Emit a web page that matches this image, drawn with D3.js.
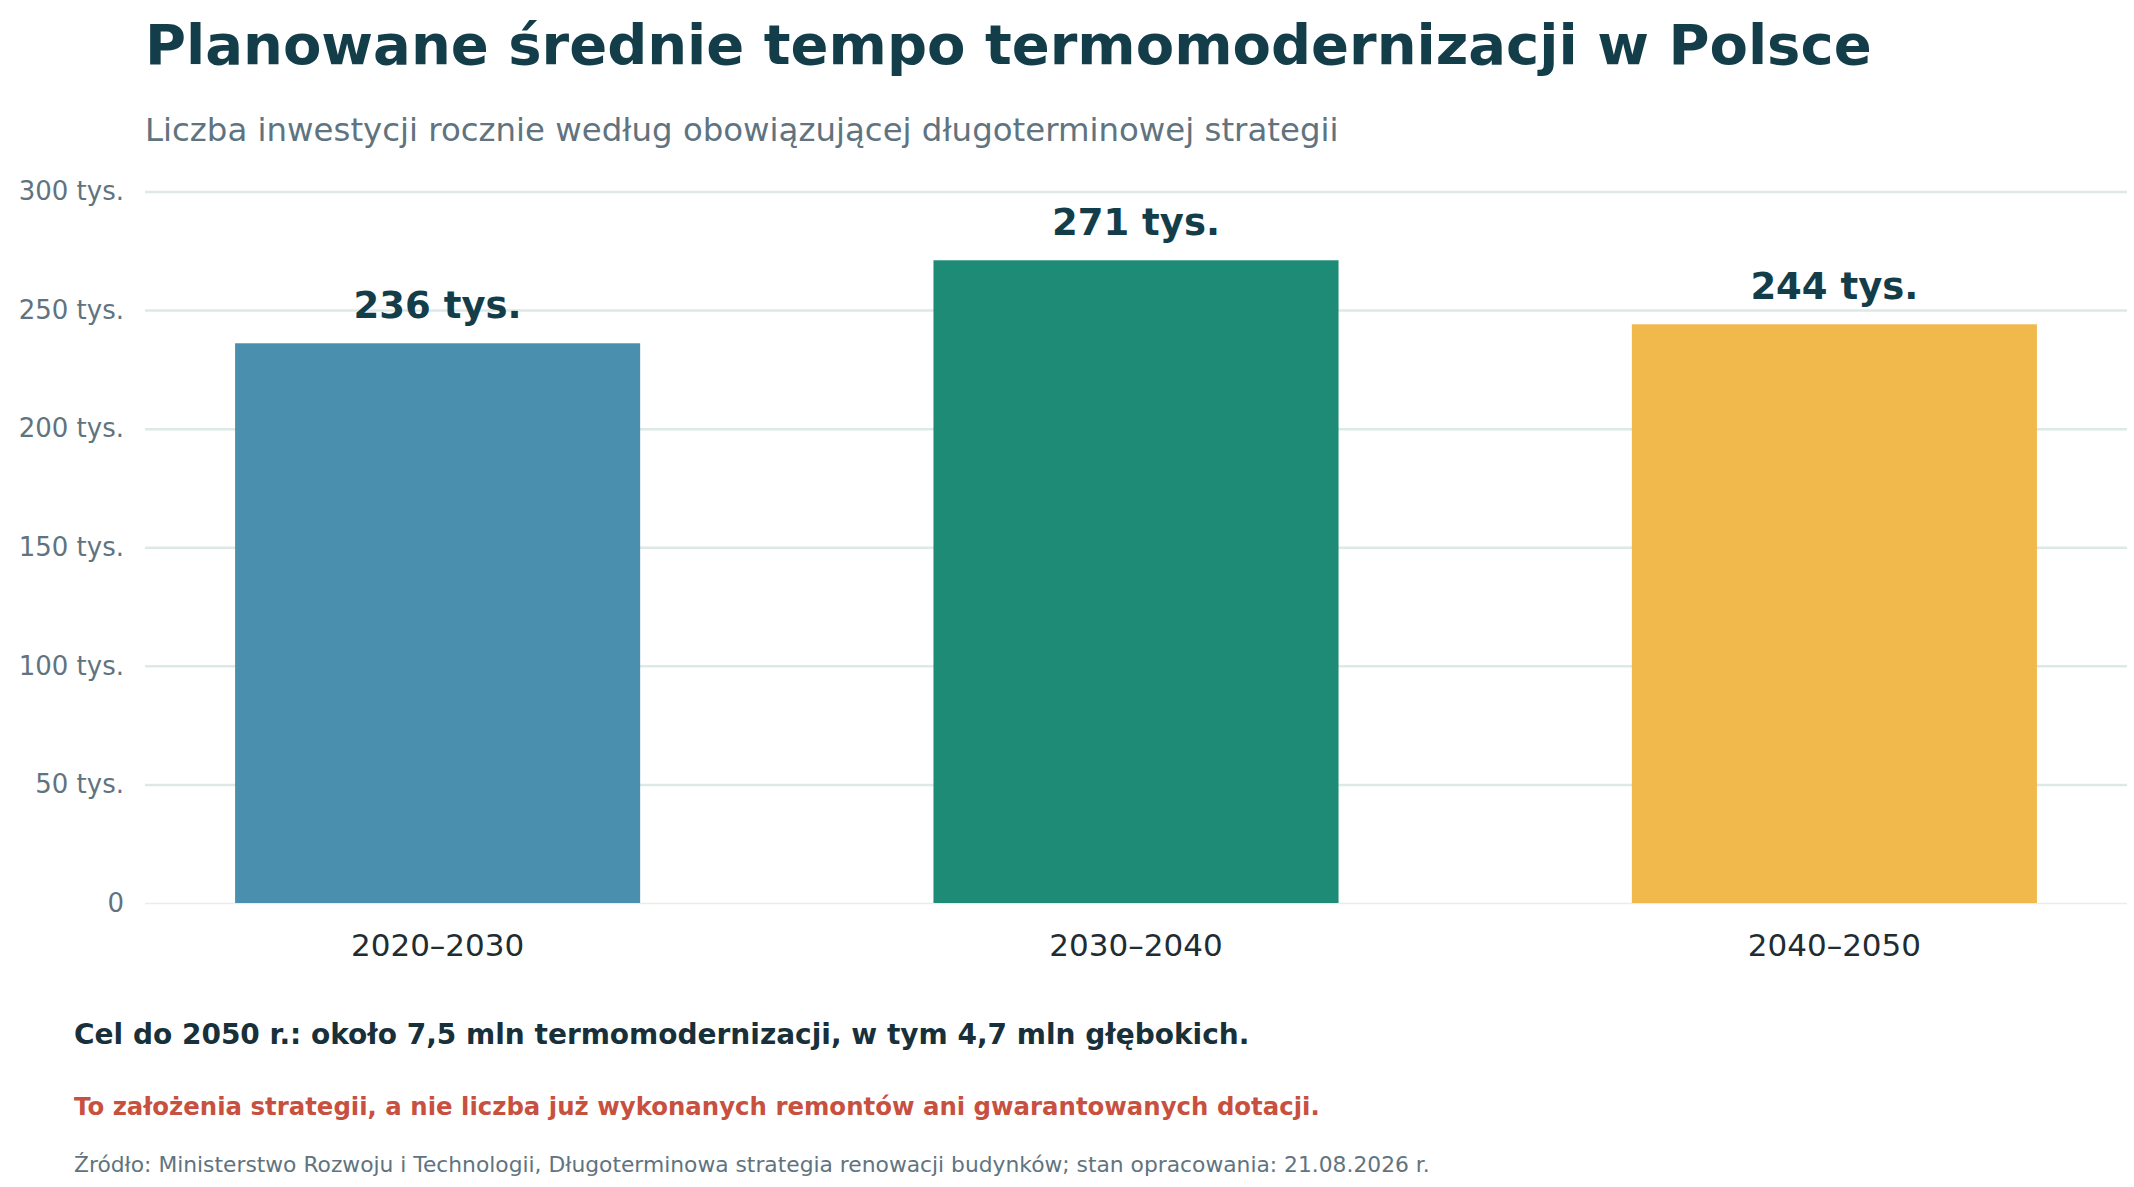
<!DOCTYPE html>
<html>
<meta charset="utf-8">
<title>Planowane średnie tempo termomodernizacji w Polsce</title>
<style>
  body { margin: 0; background: #fff; }
  text { font-family: "DejaVu Sans", sans-serif; }
</style>
<body>
<div id="chart"></div>
<script src="https://d3js.org/d3.v7.min.js"></script>
<script>
  // data
  var periods = ["2020–2030", "2030–2040", "2040–2050"];
  var investments = [236, 271, 244]; // tys. rocznie
  var barColors = ["#4b8fae", "#1e8b76", "#f1b84c"];
  var yTicks = [0, 50, 100, 150, 200, 250, 300];

  var width = 2134, height = 1187;
  var plotLeft = 145, plotRight = 2127, plotTop = 191.5, plotBottom = 903;

  var svg = d3.select("#chart").append("svg")
    .attr("width", width)
    .attr("height", height);

  var x = d3.scaleBand()
    .domain(periods)
    .range([plotLeft, plotRight])
    .paddingInner(0.42)
    .paddingOuter(0.129);

  var y = d3.scaleLinear()
    .domain([0, 300])
    .range([plotBottom, plotTop]);

  // gridlines + y labels
  var yAxis = d3.axisLeft(y)
    .tickValues(yTicks)
    .tickSize(-(plotRight - plotLeft))
    .tickPadding(20)
    .tickFormat(function (d) { return d === 0 ? "0" : d + " tys."; });

  var gy = svg.append("g")
    .attr("transform", "translate(" + plotLeft + ",0)")
    .call(yAxis);
  gy.select(".domain").remove();
  gy.selectAll(".tick line")
    .attr("stroke-width", function (d) { return d === 0 ? 1.5 : 2.5; })
    .attr("stroke", function (d) { return d === 0 ? "#e6eeed" : "#dde9e7"; });
  gy.selectAll(".tick text")
    .attr("x", -21)
    .style("font-family", "DejaVu Sans")
    .style("font-size", "26px")
    .attr("fill", "#5f7480");

  // bars
  svg.append("g").selectAll("rect")
    .data(periods)
    .join("rect")
    .attr("x", function (d) { return x(d); })
    .attr("y", function (d, i) { return y(investments[i]); })
    .attr("width", x.bandwidth())
    .attr("height", function (d, i) { return y(0) - y(investments[i]); })
    .attr("fill", function (d, i) { return barColors[i]; });

  // value labels
  svg.append("g").selectAll("text")
    .data(periods)
    .join("text")
    .attr("x", function (d) { return x(d) + x.bandwidth() / 2; })
    .attr("y", function (d, i) { return y(investments[i]) - 25; })
    .attr("text-anchor", "middle")
    .style("font-size", "37px")
    .style("font-weight", "bold")
    .attr("fill", "#143d4a")
    .text(function (d, i) { return investments[i] + " tys."; });

  // x labels
  var xAxis = d3.axisBottom(x).tickSize(0).tickPadding(0);
  var gx = svg.append("g")
    .attr("transform", "translate(0," + plotBottom + ")")
    .call(xAxis);
  gx.select(".domain").remove();
  gx.selectAll(".tick text")
    .attr("y", 53)
    .attr("dy", null)
    .style("font-family", "DejaVu Sans")
    .style("font-size", "31px")
    .attr("fill", "#1f2d33");

  // title & subtitle
  svg.append("text")
    .attr("x", 145).attr("y", 64)
    .style("font-size", "56px")
    .style("font-weight", "bold")
    .attr("fill", "#143d4a")
    .text("Planowane średnie tempo termomodernizacji w Polsce");

  svg.append("text")
    .attr("x", 145).attr("y", 141)
    .style("font-size", "32.4px")
    .attr("fill", "#5f7480")
    .text("Liczba inwestycji rocznie według obowiązującej długoterminowej strategii");

  // notes
  svg.append("text")
    .attr("x", 74).attr("y", 1044)
    .style("font-size", "28px")
    .style("font-weight", "bold")
    .attr("fill", "#17303a")
    .text("Cel do 2050 r.: około 7,5 mln termomodernizacji, w tym 4,7 mln głębokich.");

  svg.append("text")
    .attr("x", 74).attr("y", 1115)
    .style("font-size", "24.4px")
    .style("font-weight", "bold")
    .attr("fill", "#c8503f")
    .text("To założenia strategii, a nie liczba już wykonanych remontów ani gwarantowanych dotacji.");

  svg.append("text")
    .attr("x", 74).attr("y", 1172)
    .style("font-size", "21.8px")
    .attr("fill", "#5f7480")
    .text("Źródło: Ministerstwo Rozwoju i Technologii, Długoterminowa strategia renowacji budynków; stan opracowania: 21.08.2026 r.");
</script>
</body>
</html>
